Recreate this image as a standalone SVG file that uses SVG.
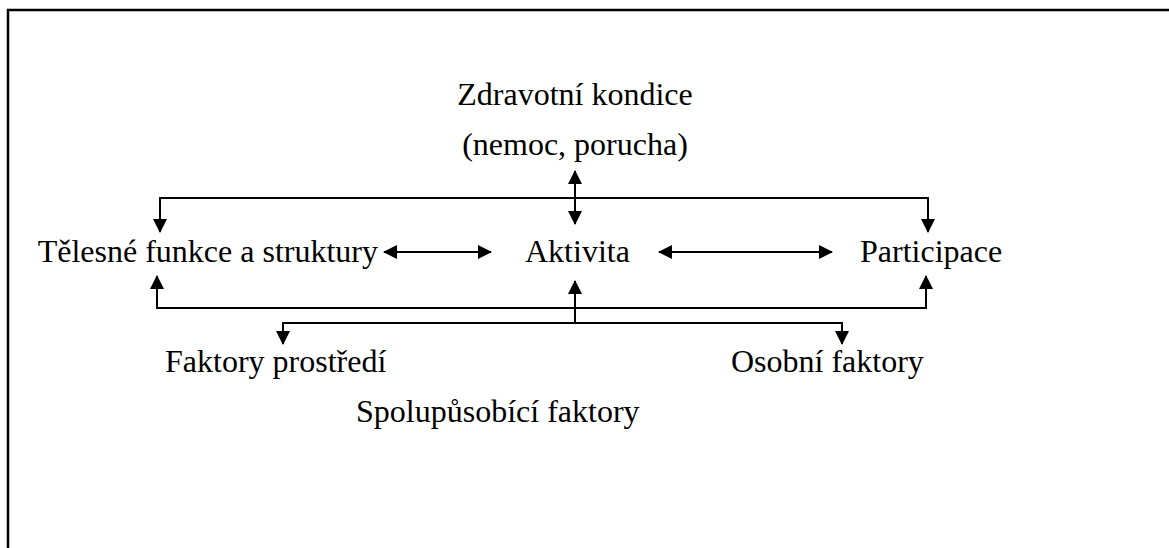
<svg xmlns="http://www.w3.org/2000/svg" width="1169" height="548" viewBox="0 0 1169 548">
<style>
text{font-family:"Liberation Serif","Times New Roman",serif;font-size:32px;fill:#000}
.ln{fill:none;stroke:#000;stroke-width:2}
.frame{fill:none;stroke:#000;stroke-width:2.5}
</style>
<defs>
<marker id="ah" markerUnits="userSpaceOnUse" markerWidth="14" markerHeight="14" refX="13" refY="7" orient="auto-start-reverse">
<path d="M0,0 L14,7 L0,14 z" fill="#000"/>
</marker>
</defs>
<rect width="1169" height="548" fill="#fff"/>
<path class="frame" d="M8,548 L8,10 L1169,10"/>
<g id="n-zdravotni"><text x="575" y="105" text-anchor="middle">Zdravotní kondice</text><text x="575" y="155" text-anchor="middle">(nemoc, porucha)</text></g>
<g id="n-telesne"><text x="378" y="262" text-anchor="end">Tělesné funkce a struktury</text></g>
<g id="n-aktivita"><text x="525" y="262">Aktivita</text></g>
<g id="n-participace"><text x="860" y="262">Participace</text></g>
<g id="n-faktory"><text x="165" y="372">Faktory prostředí</text></g>
<g id="n-osobni"><text x="731" y="372">Osobní faktory</text></g>
<g id="n-spolu"><text x="356" y="422">Spolupůsobící faktory</text></g>
<g id="connectors">
<path class="ln" d="M575,171 L575,224" marker-start="url(#ah)" marker-end="url(#ah)"/>
<path class="ln" d="M160,232 L160,198 L928,198 L928,232" marker-start="url(#ah)" marker-end="url(#ah)"/>
<path class="ln" d="M157,276 L157,308 L926,308 L926,276" marker-start="url(#ah)" marker-end="url(#ah)"/>
<path class="ln" d="M575,281 L575,323" marker-start="url(#ah)"/>
<path class="ln" d="M283,344 L283,323 L842,323 L842,344" marker-start="url(#ah)" marker-end="url(#ah)"/>
<path class="ln" d="M384,252 L491,252" marker-start="url(#ah)" marker-end="url(#ah)"/>
<path class="ln" d="M659,252 L832,252" marker-start="url(#ah)" marker-end="url(#ah)"/>
</g>
</svg>
